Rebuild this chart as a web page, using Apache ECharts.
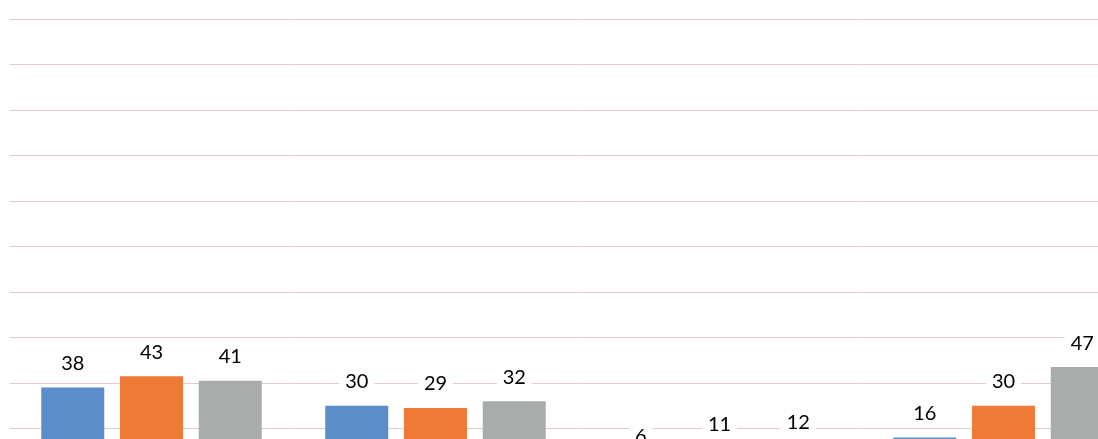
<!DOCTYPE html>
<html>
<head>
<meta charset="utf-8">
<script src="https://cdn.jsdelivr.net/npm/echarts@6/dist/echarts.min.js"></script>
<style>
  html, body { margin: 0; padding: 0; background: #ffffff; overflow: hidden; }
  #chart { width: 1200px; height: 520px; }
</style>
</head>
<body>
<div id="chart"></div>
<script>
// Four groups of three bars each
const categories = ['A', 'B', 'C', 'D'];
const seriesBlue = [38, 30, 6, 16];
const seriesOrange = [43, 29, 11, 30];
const seriesGray = [41, 32, 12, 47];
const colors = ['#5b8dcb', '#ef7a36', '#a9acac'];

const chart = echarts.init(document.getElementById('chart'), null, { renderer: 'canvas' });

function barSeries(name, data, color) {
  return {
    name: name,
    type: 'bar',
    data: data,
    barWidth: 63,
    barGap: '25%',
    itemStyle: { color: color },
    label: {
      show: true,
      position: 'top',
      distance: 13,
      fontFamily: 'Lato',
      fontSize: 20,
      lineHeight: 20,
      color: '#000000',
      backgroundColor: '#ffffff',
      padding: [1, 6]
    }
  };
}

chart.setOption({
  animation: false,
  backgroundColor: '#ffffff',
  grid: { top: 19, bottom: 46, left: 9.5, width: 1136, containLabel: false },
  xAxis: {
    type: 'category',
    data: categories,
    axisLine: { show: false },
    axisTick: { show: false },
    axisLabel: { show: false }
  },
  yAxis: {
    type: 'value',
    min: 0,
    max: 200,
    interval: 20,
    axisLabel: { show: false },
    axisLine: { show: false },
    axisTick: { show: false },
    splitLine: { lineStyle: { color: '#e3cbc7', width: 1 } }
  },
  series: [
    barSeries('S1', seriesBlue, colors[0]),
    barSeries('S2', seriesOrange, colors[1]),
    barSeries('S3', seriesGray, colors[2])
  ]
});
</script>
</body>
</html>
